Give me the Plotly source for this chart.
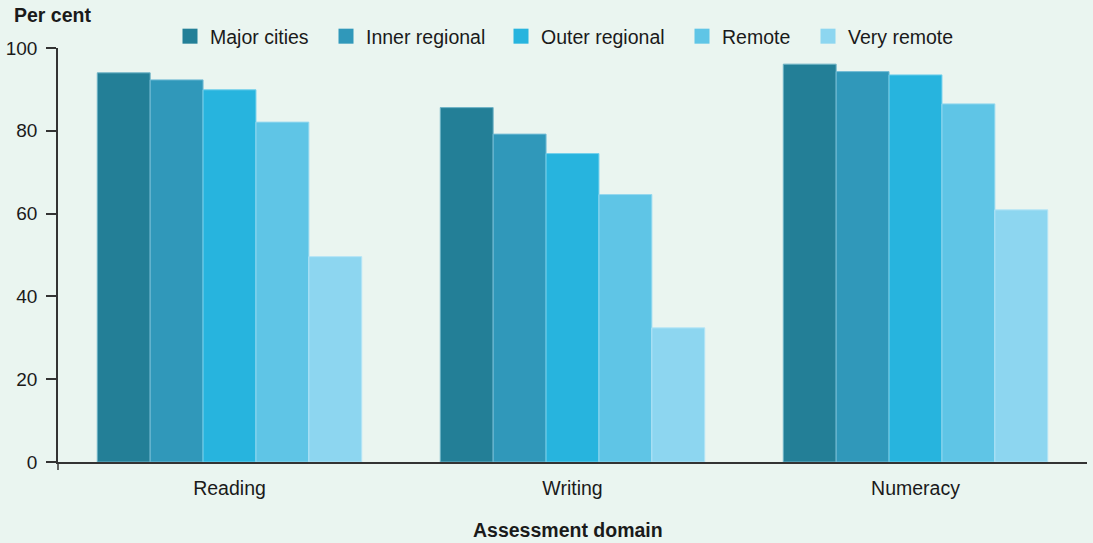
import plotly.graph_objects as go

categories = ["Reading", "Writing", "Numeracy"]
series_names = ["Major cities", "Inner regional", "Outer regional", "Remote", "Very remote"]
major_cities = [94.0, 85.6, 96.1]
inner_regional = [92.3, 79.2, 94.3]
outer_regional = [89.9, 74.5, 93.5]
remote = [82.1, 64.6, 86.5]
very_remote = [49.6, 32.4, 60.9]
y_ticks = [0, 20, 40, 60, 80, 100]

colors = ["#237F97", "#3098BA", "#27B4DE", "#5FC5E6", "#8DD6F0"]
line_colors = ["#6FB4C6", "#74BCD6", "#73D0EC", "#94D8EF", "#B4E4F6"]
values = [major_cities, inner_regional, outer_regional, remote, very_remote]
legend_px = [170, 326, 501, 682, 808]  # left edge of each legend entry (px)
bg = "#EAF5F0"
font_family = "Liberation Sans, Arial, sans-serif"
W, H = 1093, 543
ML, MR, MT, MB = 58, 6, 48, 81
plot_w = W - ML - MR
plot_h = H - MT - MB

fig = go.Figure()
legend_ids = ["legend", "legend2", "legend3", "legend4", "legend5"]
for name, vals, c, lc, lid in zip(series_names, values, colors, line_colors, legend_ids):
    fig.add_trace(go.Bar(
        x=categories, y=vals, name=name, showlegend=False,
        marker=dict(color=c, line=dict(color=lc, width=1)),
    ))
    fig.add_trace(go.Scatter(
        x=[None], y=[None], mode="markers", name=name, legend=lid,
        marker=dict(symbol="square", size=15, color=c, line=dict(width=0)),
        showlegend=True, hoverinfo="skip",
    ))

legend_common = dict(
    orientation="h", xanchor="left", yref="container", y=1 - 36.5 / H,
    yanchor="middle", font=dict(size=19.5), itemwidth=30,
    bgcolor="rgba(0,0,0,0)", borderwidth=0,
)
layout_legends = {}
for lid, px in zip(legend_ids, legend_px):
    layout_legends[lid] = dict(legend_common, x=(px - ML) / plot_w)

fig.update_layout(
    width=W, height=H,
    paper_bgcolor=bg, plot_bgcolor=bg,
    font=dict(family=font_family, size=19, color="#1a1a1a"),
    barmode="group", bargap=0.229, bargroupgap=0,
    margin=dict(l=ML, r=MR, t=MT, b=MB, autoexpand=False),
    showlegend=True,
    xaxis=dict(
        showline=True, linecolor="#333333", linewidth=2,
        ticks="", showgrid=False, tickfont=dict(size=19.5),
        ticklabelstandoff=8,
    ),
    yaxis=dict(
        range=[0, 100], tickvals=y_ticks, showgrid=False, zeroline=False,
        showline=True, linecolor="#333333", linewidth=1.5,
        ticks="outside", ticklen=10, tickcolor="#333333", tickwidth=1.5,
        tickfont=dict(size=19), ticklabelstandoff=5,
    ),
    shapes=[
        dict(type="line", xref="paper", yref="paper", x0=0, x1=0,
             y0=0, y1=-8 / plot_h, line=dict(color="#333333", width=1.5)),
    ],
    annotations=[
        dict(text="<b>Per cent</b>", xref="paper", yref="paper", x=(12 - ML) / plot_w, y=1.0,
             xanchor="left", yanchor="bottom", yshift=20, showarrow=False,
             font=dict(size=19.5, family=font_family, color="#1a1a1a")),
        dict(text="<b>Assessment domain</b>", xref="paper", yref="paper", x=(567.5 - ML) / plot_w, y=0,
             xanchor="center", yanchor="top", yshift=-55, showarrow=False,
             font=dict(size=19.5, family=font_family, color="#1a1a1a")),
    ],
    **layout_legends,
)

fig.write_html("out.html", config={"displayModeBar": False},
               post_script="document.body.style.margin='0';")
